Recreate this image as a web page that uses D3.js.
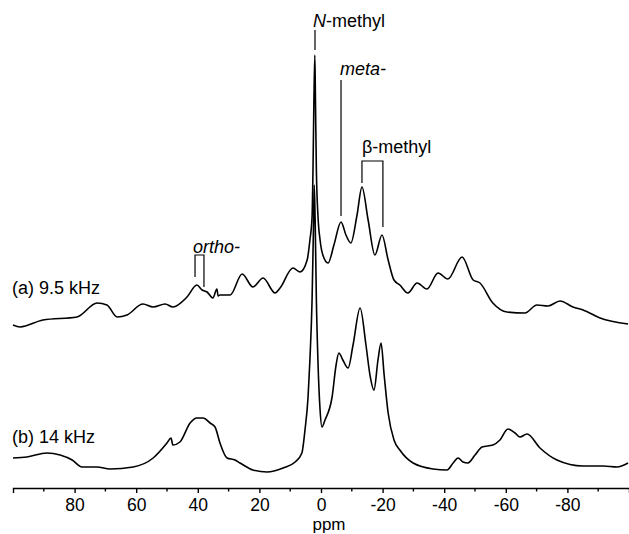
<!DOCTYPE html>
<html>
<head>
<meta charset="utf-8">
<script src="https://cdn.jsdelivr.net/npm/d3@7"></script>
<style>
  body { margin: 0; background: #fff; }
  text { font-family: "Liberation Sans", Arial, sans-serif; fill: #000; }
  .trace { fill: none; stroke: #000; stroke-width: 1.6; stroke-linejoin: round; }
  .mark { fill: none; stroke: #000; stroke-width: 1.2; }
  .axis path, .axis line { stroke: #000; stroke-width: 1.4; }
</style>
</head>
<body>
<div id="chart"></div>
<script>
// chemical shift (ppm) and intensity, trace (a) 9.5 kHz
var ppmA = [100, 97.7, 90.3, 79.2, 72.7, 69.5, 66.2, 63.0, 57.8, 54.5, 50.6, 48.1, 43.5, 40.3, 38.6, 37.0, 35.1, 33.8, 33.4, 32.8, 29.5,
  25.6, 22.1, 18.8, 14.9, 13.3, 9.1, 6.8, 4.5, 3.6, 2.9, 2.6, 2.3, 2.0, 1.8, 1.5, 1.0, 0.3, -0.6, -2.3, -4.2, -6.5, -8.1, -9.7,
  -11.7, -13.3, -15.3, -17.5, -19.8, -21.8, -23.7, -25.6, -28.2, -31.2, -34.4, -38.0, -41.2, -45.8, -49.4, -51.6, -55.8, -60.4,
  -66.2, -70.1, -73.7, -77.6, -81.8, -85.1, -90.6, -99.7];
var intA = [5, 3, 10, 13, 27, 25, 13, 15, 26, 23, 26, 23, 33, 45, 40, 38, 32, 41, 34, 35, 35,
  56, 43, 52, 37, 42, 62, 58, 70, 90, 113, 160, 230, 275, 230, 160, 115, 90, 75, 67, 85, 108, 95, 87,
  115, 143, 110, 75, 95, 70, 50, 45, 37, 47, 41, 57, 51, 73, 50, 47, 27, 18,
  17, 25, 24, 29, 23, 20, 12, 6];

// trace (b) 14 kHz
var ppmB = [100, 95.5, 89.0, 84.7, 80.8, 77.6, 72.7, 68.5, 61.0, 54.5, 50.0, 48.7, 48.1, 45.8, 42.5, 40.3, 38.3, 36.0, 34.4, 32.8,
  30.5, 27.9, 26.3, 22.1, 17.5, 12.3, 8.4, 6.2, 5.2, 4.2, 3.6, 2.9, 2.4, 2.2, 1.9, 1.5, 1.0, 0.3, -0.3, -1.3, -3.6, -4.9, -5.8,
  -7.1, -8.8, -10.4, -12.7, -14.6, -15.9, -17.2, -18.5, -19.5, -20.5, -21.8, -23.7, -25.6, -29.9, -36.4, -40.9, -42.9, -44.5,
  -46.1, -47.7, -50.0, -52.3, -55.8, -58.1, -60.7, -63.0, -64.6, -66.9, -71.1, -76.6, -85.1, -91.6, -96.1, -99.7];
var intB = [22, 23, 27, 25, 20, 13, 13, 11, 13, 22, 37, 42, 35, 38, 57, 62, 62, 57, 53, 37,
  22, 20, 17, 10, 8, 12, 18, 27, 50, 83, 120, 180, 260, 295, 260, 180, 120, 70, 53, 60, 83, 115, 127,
  120, 112, 135, 172, 135, 105, 90, 120, 137, 105, 67, 40, 30, 17, 11, 10, 17, 22,
  18, 17, 25, 33, 35, 40, 51, 47, 43, 46, 32, 20, 14, 14, 13, 17];

var offsetA = 150; // vertical stacking of trace (a)

var majorTicks = [80, 60, 40, 20, 0, -20, -40, -60, -80];
var minorTicks = [90, 70, 50, 30, 10, -10, -30, -50, -70, -90];

var traceLabels = ["(a) 9.5 kHz", "(b) 14 kHz"];

// assignment markers: label, ppm of each leg
var assignNames = ["N-methyl", "meta-", "\u03b2-methyl", "ortho-"];
var assignPpm = [[1.95], [-6.5], [-13.3, -20.1], [40.9, 38.0]];

function draw() {
  var width = 629, height = 534;

  var svg = d3.select("#chart").append("svg")
    .attr("width", width)
    .attr("height", height);

  var xScale = d3.scaleLinear()
    .domain([100, -100])
    .range([13, 629]);

  var yScale = d3.scaleLinear()
    .domain([0, 480])
    .range([480, 0]);

  var dataA = ppmA.map(function(p, i) { return { ppm: p, v: intA[i] + offsetA }; });
  var dataB = ppmB.map(function(p, i) { return { ppm: p, v: intB[i] }; });

  var line = d3.line()
    .x(function(d) { return xScale(d.ppm); })
    .y(function(d) { return yScale(d.v); })
    .curve(d3.curveMonotoneX);

  svg.append("path").datum(dataA).attr("class", "trace").attr("d", line);
  svg.append("path").datum(dataB).attr("class", "trace").attr("d", line);

  // x axis, major ticks with labels (plain hyphen for negatives, like the original)
  var axisY = 488;
  var gx = svg.append("g")
    .attr("class", "axis")
    .attr("transform", "translate(0," + axisY + ")")
    .call(d3.axisBottom(xScale).tickValues(majorTicks).tickSize(5).tickSizeOuter(5).tickPadding(6)
      .tickFormat(function(d) { return String(d); }));
  gx.selectAll("text").style("font-size", "17.5px").style("font-family", "Liberation Sans, Arial, sans-serif");

  // minor ticks
  gx.selectAll(".minor")
    .data(minorTicks)
    .enter().append("line")
    .attr("class", "minor")
    .attr("x1", function(d) { return xScale(d); })
    .attr("x2", function(d) { return xScale(d); })
    .attr("y1", 0)
    .attr("y2", 3.5);

  svg.append("text")
    .attr("x", 329)
    .attr("y", 530)
    .attr("text-anchor", "middle")
    .style("font-size", "17px")
    .text("ppm");

  // trace names
  svg.append("text").attr("x", 12).attr("y", 294).style("font-size", "18px").text(traceLabels[0]);
  svg.append("text").attr("x", 12).attr("y", 443).style("font-size", "18px").text(traceLabels[1]);

  // N-methyl
  var nm = svg.append("text").attr("x", xScale(assignPpm[0][0]) - 2).attr("y", 27).style("font-size", "18px");
  nm.append("tspan").style("font-style", "italic").text("N");
  nm.append("tspan").text(assignNames[0].slice(1));
  svg.append("line").attr("class", "mark")
    .attr("x1", xScale(assignPpm[0][0])).attr("x2", xScale(assignPpm[0][0]))
    .attr("y1", 30).attr("y2", 50);

  // meta-
  svg.append("text").attr("x", xScale(assignPpm[1][0]) - 1).attr("y", 75)
    .style("font-size", "18px").style("font-style", "italic").text(assignNames[1]);
  svg.append("line").attr("class", "mark")
    .attr("x1", xScale(assignPpm[1][0])).attr("x2", xScale(assignPpm[1][0]))
    .attr("y1", 80).attr("y2", 216);

  // beta-methyl bracket
  var b1 = xScale(assignPpm[2][0]), b2 = xScale(assignPpm[2][1]);
  svg.append("text").attr("x", b1).attr("y", 153).style("font-size", "18px").text(assignNames[2]);
  svg.append("path").attr("class", "mark")
    .attr("d", "M" + b1 + ",183V161H" + b2 + "V227");

  // ortho bracket
  var o1 = xScale(assignPpm[3][0]), o2 = xScale(assignPpm[3][1]);
  svg.append("text").attr("x", o1 - 2).attr("y", 253)
    .style("font-size", "18px").style("font-style", "italic").text(assignNames[3]);
  svg.append("path").attr("class", "mark")
    .attr("d", "M" + o1 + ",277V255H" + o2 + "V287");
}

draw();
</script>
</body>
</html>
